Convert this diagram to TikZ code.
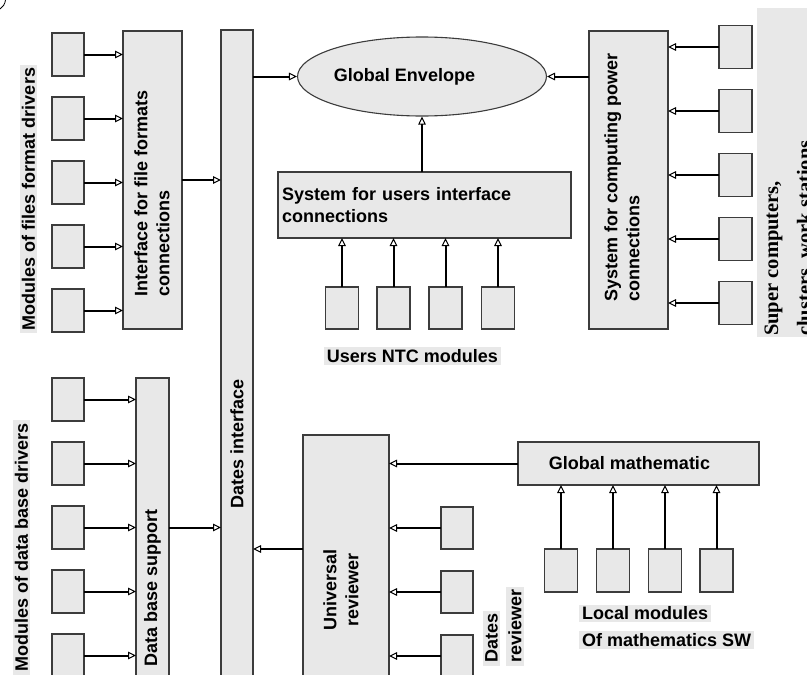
\documentclass[tikz,border=0pt]{standalone}
\usepackage{fontspec}
\setmainfont{Liberation Sans}
\newfontfamily\timesfont{Liberation Serif}
\usetikzlibrary{arrows.meta,shapes.geometric}
\definecolor{boxfill}{RGB}{232,232,232}
\definecolor{boxline}{RGB}{60,60,60}
\begin{document}
\begin{tikzpicture}[x=1pt,y=-1pt,
  mbox/.style={draw=boxline, line width=1.1pt, fill=boxfill, inner sep=0pt, outer sep=0pt, rectangle},
  conn/.style={line width=2pt, -{Triangle[open,length=8pt,width=7.5pt,line width=1pt]}},
  txt/.style={font=\fontsize{18}{22}\selectfont\bfseries, inner sep=0pt},
  lbl/.style={font=\fontsize{18}{22}\selectfont\bfseries, fill=boxfill, inner xsep=3pt, inner ysep=2pt},
]
\useasboundingbox (0,0) rectangle (807,675);
\clip (0,0) rectangle (807,675);

% small arc fragment at top-left
\draw[line width=0.8pt] (5.5,0) .. controls (5,4) and (3,7) .. (0,9);

% file format drivers
\foreach \i in {1,...,5}
  \node[mbox, minimum width=32pt, minimum height=43pt] (f\i) at (68,{54.5+64*(\i-1)}) {};
\node[mbox, minimum width=59pt, minimum height=298pt] (iff) at (152.5,180) {};
\node[txt, rotate=90, align=left, anchor=west] at (152,297) {Interface for file formats\\connections};
\node[lbl, rotate=90] (lf) at (28.5,199) {Modules of files format drivers};

% dates interface
\node[mbox, minimum width=32pt, minimum height=670pt] (di) at (237,365) {};
\node[txt, rotate=90] at (237,444) {Dates interface};

% data base drivers
\foreach \i in {1,...,5}
  \node[mbox, minimum width=32pt, minimum height=43pt] (d\i) at (68,{399.5+64*(\i-1)}) {};
\node[mbox, minimum width=33pt, minimum height=322pt] (dbs) at (152.5,539) {};
\node[txt, rotate=90, anchor=west] at (152.5,667) {Data base support};
\node[lbl, rotate=90] (ld) at (21.5,547.5) {Modules of data base drivers};

% global envelope
\node[ellipse, draw=boxline, line width=1.1pt, fill=boxfill, minimum width=236pt, minimum height=79pt, inner sep=0pt, txt] (ge) at (422,76.5) {Global Envelope\hspace*{35pt}};

% users interface
\node[mbox, minimum height=66pt, text width=285pt, inner xsep=4pt, align=left, font=\fontsize{18}{22}\selectfont\bfseries] (ui) at (424.5,205) {System for users interface\\connections};
\foreach \x [count=\i] in {342,393.5,445.5,498}
  \node[mbox, minimum width=33pt, minimum height=42pt] (n\i) at (\x,308) {};
\node[lbl] (lntc) at (412.5,356) {Users NTC modules};

% computing power
\node[mbox, minimum width=79pt, minimum height=298pt] (cp) at (628.5,180) {};
\node[txt, rotate=90, align=left, anchor=west] at (622,302) {System for computing power\\connections};
\foreach \i in {1,...,5}
  \node[mbox, minimum width=33pt, minimum height=43pt] (c\i) at (735.5,{47+64*(\i-1)}) {};
\node[fill=boxfill, minimum width=60pt, minimum height=329pt, inner sep=0pt] (scbg) at (787,172.5) {};
\node[rotate=90, anchor=base west, inner sep=0pt, font=\timesfont\bfseries\fontsize{20.5}{24}\selectfont] (sc1) at (778,336) {Super computers,};
\node[rotate=90, anchor=base west, inner sep=0pt, font=\timesfont\bfseries\fontsize{20.5}{24}\selectfont] (sc2) at (811,336) {clusters, work stations};

% universal reviewer
\node[mbox, minimum width=86pt, minimum height=265pt] (ur) at (346,567.5) {};
\node[txt, rotate=90, align=center] at (341,590) {Universal\\reviewer};
\foreach \y [count=\i] in {528,592,656}
  \node[mbox, minimum width=32pt, minimum height=42pt] (r\i) at (457,\y) {};
\node[lbl, rotate=90, anchor=west] at (491.5,666) {Dates};
\node[lbl, rotate=90, anchor=west] at (515,666) {reviewer};

% global mathematic
\node[mbox, minimum width=241pt, minimum height=43pt, font=\fontsize{18}{22}\selectfont\bfseries] (gm) at (638.5,463.5) {Global mathematic\hspace*{18pt}};
\foreach \x [count=\i] in {561,613,665,716.5}
  \node[mbox, minimum width=33pt, minimum height=43pt] (l\i) at (\x,570.5) {};
\node[lbl, anchor=west] at (579,613.5) {Local modules};
\node[lbl, anchor=west] at (579,640) {Of mathematics SW};

% connectors
\foreach \i in {1,...,5} {
  \draw[conn] (f\i.east) -- (f\i.east -| iff.west);
  \draw[conn] (d\i.east) -- (d\i.east -| dbs.west);
  \draw[conn] (c\i.west) -- (c\i.west -| cp.east);
}
\draw[conn] (iff.east) -- (iff.east -| di.west);
\draw[conn] (d3.east -| dbs.east) -- (d3.east -| di.west);
\draw[conn] (ge.west -| di.east) -- (ge.west);
\draw[conn] (ge.east -| cp.west) -- (ge.east);
\draw[conn] (ge.south |- ui.north) -- (ge.south);
\foreach \i in {1,...,4} {
  \draw[conn] (n\i.north) -- (n\i.north |- ui.south);
  \draw[conn] (l\i.north) -- (l\i.north |- gm.south);
}
\foreach \i in {1,...,3}
  \draw[conn] (r\i.west) -- (r\i.west -| ur.east);
\draw[conn] (gm.west) -- (gm.west -| ur.east);
\coordinate (urj) at (ur.west |- 0,549);
\draw[conn] (urj) -- (urj -| di.east);
\end{tikzpicture}
\end{document}
